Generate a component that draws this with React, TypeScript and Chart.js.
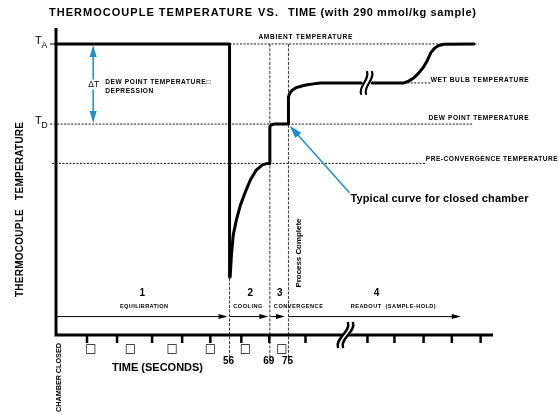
import React, { useEffect, useRef } from 'react';
import { Chart, registerables } from 'chart.js';

Chart.register(...registerables);

// ---------- text ----------
const titleParts = ['THERMOCOUPLE TEMPERATURE', 'VS.', 'TIME (with 290 mmol/kg sample)'];
const yTitle = 'THERMOCOUPLE   TEMPERATURE';
const xTitle = 'TIME (SECONDS)';
const startLabel = 'CHAMBER CLOSED';
const doneLabel = 'Process Complete';
const noteLabel = 'Typical curve for closed chamber';
const deltaLabel = 'ΔT';
const deltaText = ['DEW POINT TEMPERATURE□', 'DEPRESSION'];

// ---------- data: thermocouple curve (time in s, temperature in arbitrary units) ----------
const curveTime = [0, 56, 56, 56.2, 56.6, 57.2, 58.2, 59.5, 61.1, 62.7, 64.6, 66.6, 68.2, 69, 69, 69.4, 70.3, 72, 75, 75, 75.5, 76.3, 77.2, 78.2, 79.6, 81.1, 83, 85.3, 98.5, 100, 102, 112.2, 113.8, 115.4, 117, 118.6, 119.9, 120.9, 122.2, 123.5, 125.1, 134.8];
const curveTemp = [94.8, 94.8, 18.9, 18.9, 26.1, 32.6, 37.5, 42.3, 46.6, 50.5, 53.7, 55.4, 55.9, 55.9, 67.8, 68.4, 68.7, 68.7, 68.7, 77.5, 78.9, 79.8, 80.4, 80.8, 81.2, 81.5, 81.8, 82.1, 82.1, null, 82.1, 82.1, 82.7, 83.7, 85.3, 87.3, 89.6, 91.9, 93.5, 94.3, 94.7, 94.8];

// reference temperature levels
const refNames = ['AMBIENT TEMPERATURE', 'WET BULB TEMPERATURE', 'DEW POINT TEMPERATURE', 'PRE-CONVERGENCE TEMPERATURE'];
const refTemps = [94.8, 82.1, 68.7, 55.9];
const refFrom = [56, 112.2, -1.9, -1.3];
const refTo = [136.4, 120.9, 134.5, 119.3];
const levelSymbols = ['A', 'D'];
const levelTemps = [94.8, 68.7];

// time markers
const markerTimes = [56, 69, 75];
const markerLabels = ['56', '69', '75'];

// phases
const phaseNumbers = ['1', '2', '3', '4'];
const phaseNames = ['EQUILIBRATION', 'COOLING', 'CONVERGENCE', 'READOUT  (SAMPLE-HOLD)'];
const phaseStart = [0, 56, 69, 75];
const phaseEnd = [56, 69, 75, 130.6];

// x-axis ticks and their (unrendered) tick-label glyphs
const tickTimes = [10, 19.7, 31, 40.7, 49.8, 59.8, 68.8, 80.5, 100.5, 109.2, 118.6, 127.7, 137];
const boxTimes = [11.3, 24, 37.5, 49.8, 61.1, 72.9];
const boxLabel = '□';

// ---------- layout (positions / sizes of annotations) ----------
const X_MAX = 141;
const Y_MAX = 100;
const L = {
  refLabelT: [65.3, 120.9, 120.2, 119.3],
  refLabelDy: [-7, -3, -6, -4.5],
  refLabelW: [94, 98, 100, 132],
  markerTop: 94.8,
  markerBottom: -9.3,
  phaseNumT: [27.8, 62.7, 72.2, 103.4],
  phaseNameT: [28.4, 61.9, 78.2, 108.8],
  phaseNameW: [48, 29, 49, 85],
  phaseNumV: 13.5,
  phaseNameV: 9.3,
  phaseArrowV: 6.0,
  phaseArrowTrim: [2, 1.5, 3.5, 0],
  deltaT: 12,
  noteFrom: [94.7, 46.3],
  noteTo: [75.4, 68.2],
  noteText: [95, 44.2],
  curveBreak: [100.2, 82.1],
  axisBreak: 93.4,
  doneT: 78.4,
  doneV: 26.7,
};

const F = (size: number, bold = true, fam = '"Liberation Sans", Arial, sans-serif') =>
  `${bold ? 'bold ' : ''}${size}px ${fam}`;

function drawText(
  ctx: CanvasRenderingContext2D,
  s: string,
  x: number,
  y: number,
  font: string,
  o: { align?: 'left' | 'center' | 'right'; width?: number; color?: string; rotate?: number; bg?: boolean } = {}
) {
  ctx.save();
  ctx.font = font;
  ctx.fillStyle = o.color || '#000';
  ctx.textBaseline = 'middle';
  ctx.textAlign = 'left';
  const anyCtx = ctx as any;
  if ('letterSpacing' in anyCtx) anyCtx.letterSpacing = '0px';
  const w0 = ctx.measureText(s).width;
  let total = w0;
  if (o.width && 'letterSpacing' in anyCtx) {
    const ls = (o.width - w0) / Math.max(1, s.length - 1);
    anyCtx.letterSpacing = ls + 'px';
    total = o.width;
  }
  ctx.translate(x, y);
  if (o.rotate) ctx.rotate(o.rotate);
  const left = o.align === 'center' ? -total / 2 : o.align === 'right' ? -total : 0;
  if (o.bg) {
    ctx.fillStyle = '#fff';
    ctx.fillRect(left - 1, -5, total + 2, 10);
    ctx.fillStyle = o.color || '#000';
  }
  ctx.fillText(s, left, 0);
  ctx.restore();
}

function head(ctx: CanvasRenderingContext2D, x: number, y: number, ang: number, len: number, half: number) {
  const bx = x - Math.cos(ang) * len;
  const by = y - Math.sin(ang) * len;
  const px = -Math.sin(ang) * half;
  const py = Math.cos(ang) * half;
  ctx.beginPath();
  ctx.moveTo(x, y);
  ctx.lineTo(bx + px, by + py);
  ctx.lineTo(bx - px, by - py);
  ctx.closePath();
  ctx.fill();
}

function arrow(
  ctx: CanvasRenderingContext2D,
  x1: number, y1: number, x2: number, y2: number,
  color: string, lw: number, len: number, half: number, both = false
) {
  ctx.save();
  ctx.strokeStyle = color;
  ctx.fillStyle = color;
  ctx.lineWidth = lw;
  const ang = Math.atan2(y2 - y1, x2 - x1);
  const sx = both ? x1 + Math.cos(ang) * len * 0.7 : x1;
  const sy = both ? y1 + Math.sin(ang) * len * 0.7 : y1;
  ctx.beginPath();
  ctx.moveTo(sx, sy);
  ctx.lineTo(x2 - Math.cos(ang) * len * 0.7, y2 - Math.sin(ang) * len * 0.7);
  ctx.stroke();
  head(ctx, x2, y2, ang, len, half);
  if (both) head(ctx, x1, y1, ang + Math.PI, len, half);
  ctx.restore();
}

function breakMark(ctx: CanvasRenderingContext2D, cx: number, cy: number, h: number, slant: number, gap: number, lw: number) {
  ctx.save();
  ctx.fillStyle = '#fff';
  ctx.beginPath();
  ctx.moveTo(cx - gap / 2 + slant, cy - h / 2);
  ctx.lineTo(cx + gap / 2 + slant, cy - h / 2);
  ctx.lineTo(cx + gap / 2 - slant, cy + h / 2);
  ctx.lineTo(cx - gap / 2 - slant, cy + h / 2);
  ctx.closePath();
  ctx.fill();
  ctx.strokeStyle = '#000';
  ctx.lineWidth = lw;
  ctx.lineCap = 'round';
  for (const o of [-gap / 2, gap / 2]) {
    ctx.beginPath();
    ctx.moveTo(cx + o + slant, cy - h / 2);
    ctx.bezierCurveTo(cx + o + slant + 3, cy - h / 6, cx + o - slant - 3, cy + h / 6, cx + o - slant, cy + h / 2);
    ctx.stroke();
  }
  ctx.restore();
}

const BLUE = '#1c8fd3';

const annotations = {
  id: 'annotations',
  afterDraw(chart: any) {
    const ctx: CanvasRenderingContext2D = chart.ctx;
    const xs = chart.scales.x;
    const ys = chart.scales.y;
    const X = (t: number) => xs.getPixelForValue(t);
    const Y = (v: number) => ys.getPixelForValue(v);
    const x0 = X(0);
    const y0 = Y(0);

    ctx.save();
    // axes
    ctx.strokeStyle = '#000';
    ctx.lineWidth = 3;
    ctx.beginPath();
    ctx.moveTo(x0, Y(Y_MAX));
    ctx.lineTo(x0, y0 + 1.5);
    ctx.moveTo(x0 - 1.5, y0);
    ctx.lineTo(X(X_MAX), y0);
    ctx.stroke();
    // tick marks
    ctx.lineWidth = 2.5;
    tickTimes.forEach((t) => {
      ctx.beginPath();
      ctx.moveTo(X(t), y0);
      ctx.lineTo(X(t), y0 + 8);
      ctx.stroke();
    });
    // small tick at T_A
    ctx.lineWidth = 1;
    ctx.beginPath();
    ctx.moveTo(x0 - 6, Y(levelTemps[0]));
    ctx.lineTo(x0, Y(levelTemps[0]));
    ctx.stroke();
    ctx.restore();

    // breaks
    breakMark(ctx, X(L.axisBreak), y0, 24, 5, 5, 2.5);
    breakMark(ctx, X(L.curveBreak[0]), Y(L.curveBreak[1]), 22, 3, 5, 2.2);

    // tick glyphs
    boxTimes.forEach((t) => drawText(ctx, boxLabel, X(t), y0 + 14, F(12, true, '"DejaVu Sans", sans-serif'), { align: 'center' }));

    // marker labels
    markerTimes.forEach((t, i) => drawText(ctx, markerLabels[i], X(t) - 1, y0 + 26, F(10), { align: 'center' }));

    // titles
    drawText(ctx, titleParts[0], 49, 13, F(11), { width: 203 });
    drawText(ctx, titleParts[1], 258, 13, F(11), { width: 20 });
    drawText(ctx, titleParts[2], 288, 13, F(11), { width: 188 });
    drawText(ctx, yTitle, 20, 209.5, F(10), { align: 'center', width: 175, rotate: -Math.PI / 2 });
    drawText(ctx, xTitle, 112, y0 + 32.5, F(11), { width: 91 });
    drawText(ctx, startLabel, x0 + 3, y0 + 42.5, F(7.3), { align: 'center', width: 69, rotate: -Math.PI / 2 });

    // T_A, T_D
    levelTemps.forEach((v, i) => {
      drawText(ctx, 'T', 35, Y(v) - 3, F(11, false));
      drawText(ctx, levelSymbols[i], 41.5, Y(v) + 1.5, F(8.5, false));
    });

    // reference labels
    refNames.forEach((n, i) =>
      drawText(ctx, n, X(L.refLabelT[i]), Y(refTemps[i]) + L.refLabelDy[i], F(6.6), { width: L.refLabelW[i] })
    );

    // phases
    phaseNumbers.forEach((n, i) => {
      drawText(ctx, n, X(L.phaseNumT[i]), Y(L.phaseNumV), F(10), { align: 'center' });
      drawText(ctx, phaseNames[i], X(L.phaseNameT[i]), Y(L.phaseNameV), F(5.6), { align: 'center', width: L.phaseNameW[i] });
      arrow(ctx, X(phaseStart[i]) + (i === 0 ? 0 : 0.5), Y(L.phaseArrowV), X(phaseEnd[i]) - L.phaseArrowTrim[i], Y(L.phaseArrowV), '#000', 1, 9, 2.5);
    });

    // process complete
    drawText(ctx, doneLabel, X(L.doneT), Y(L.doneV), F(8), { align: 'center', width: 69, rotate: -Math.PI / 2 });

    // delta T arrow
    const dx = X(L.deltaT);
    arrow(ctx, dx, Y(levelTemps[0]) + 1, dx, Y(levelTemps[1]) - 1, BLUE, 1.5, 12, 3.5, true);
    drawText(ctx, deltaLabel, dx + 0.5, Y((levelTemps[0] + levelTemps[1]) / 2) + 0.5, F(8.5, false), { align: 'center', bg: true });
    drawText(ctx, deltaText[0], dx + 12, Y((levelTemps[0] + levelTemps[1]) / 2) - 1.5, F(6.6), { width: 105 });
    drawText(ctx, deltaText[1], dx + 12, Y((levelTemps[0] + levelTemps[1]) / 2) + 7, F(6.6), { width: 48 });

    // closed chamber note
    arrow(ctx, X(L.noteFrom[0]), Y(L.noteFrom[1]), X(L.noteTo[0]), Y(L.noteTo[1]), BLUE, 1.5, 13, 4);
    drawText(ctx, noteLabel, X(L.noteText[0]), Y(L.noteText[1]), F(11), { width: 178 });
  },
};

export default function App() {
  const ref = useRef<HTMLCanvasElement>(null);
  useEffect(() => {
    const canvas = ref.current;
    if (!canvas) return;
    const datasets: any[] = [
      {
        label: 'curve',
        data: curveTime.map((t, i) => ({ x: t, y: curveTemp[i] })),
        borderColor: '#000',
        borderWidth: 3,
        pointRadius: 0,
        tension: 0,
        spanGaps: false,
        borderJoinStyle: 'round',
        borderCapStyle: 'round',
        clip: false,
      },
      ...refTemps.map((v, i) => ({
        label: refNames[i],
        data: [
          { x: refFrom[i], y: v },
          { x: refTo[i], y: v },
        ],
        borderColor: '#111',
        borderWidth: 1,
        borderDash: [2, 1.5],
        pointRadius: 0,
        clip: false,
      })),
      ...markerTimes.map((t, i) => ({
        label: markerLabels[i],
        data: [
          { x: t, y: L.markerTop },
          { x: t, y: L.markerBottom },
        ],
        borderColor: '#333',
        borderWidth: 1,
        borderDash: [3, 1.5],
        pointRadius: 0,
        clip: false,
      })),
    ];
    const chart = new Chart(canvas, {
      type: 'line',
      data: { datasets },
      options: {
        animation: false,
        responsive: false,
        devicePixelRatio: 1,
        events: [],
        layout: { padding: { left: 56, right: 66, top: 28, bottom: 80 } },
        plugins: { legend: { display: false }, tooltip: { enabled: false }, title: { display: false } },
        scales: {
          x: { type: 'linear', min: 0, max: X_MAX, display: false },
          y: { type: 'linear', min: 0, max: Y_MAX, display: false },
        },
      } as any,
      plugins: [annotations as any],
    });
    return () => chart.destroy();
  }, []);
  return (
    <div style={{ position: 'absolute', left: 0, top: 0, width: 559, height: 415, background: '#fff' }}>
      <canvas ref={ref} width={559} height={415} style={{ width: 559, height: 415, display: 'block' }} />
    </div>
  );
}
